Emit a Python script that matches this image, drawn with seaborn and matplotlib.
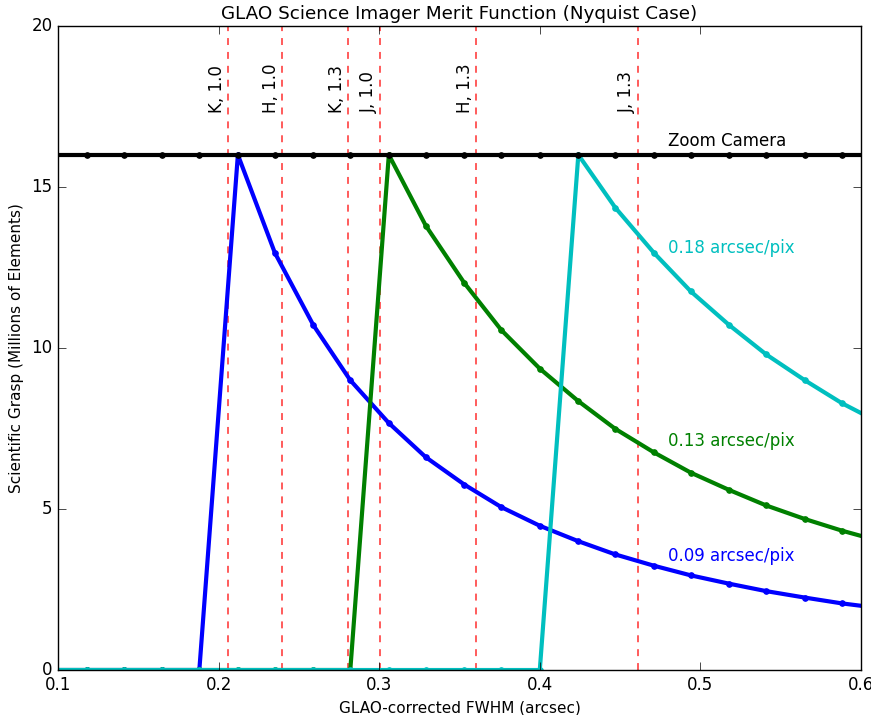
import matplotlib
matplotlib.use('Agg')
import matplotlib.pyplot as plt
import seaborn as sns
import pandas as pd

plt.style.use('classic')
plt.rcParams['figure.facecolor'] = 'white'
plt.rcParams['font.family'] = ['DejaVu Sans']

# FWHM sample points (arcsec)
fwhm = [0.094, 0.118, 0.141, 0.165, 0.188, 0.212, 0.235, 0.259, 0.282, 0.306, 0.329, 0.353,
        0.376, 0.400, 0.424, 0.447, 0.471, 0.494, 0.518, 0.541, 0.565, 0.588, 0.612]

grasp_009 = [0, 0, 0, 0, 0, 16, 12.96, 10.71, 9.0, 7.67, 6.61, 5.76,
             5.06, 4.48, 4.0, 3.59, 3.24, 2.94, 2.68, 2.45, 2.25, 2.07, 1.92]
grasp_013 = [0, 0, 0, 0, 0, 0, 0, 0, 0, 16, 13.80, 12.02,
             10.56, 9.36, 8.35, 7.49, 6.76, 6.13, 5.59, 5.11, 4.69, 4.33, 4.0]
grasp_018 = [0, 0, 0, 0, 0, 0, 0, 0, 0, 0, 0, 0,
             0, 0, 16, 14.36, 12.96, 11.76, 10.71, 9.80, 9.0, 8.29, 7.67]
grasp_zoom = [16] * len(fwhm)

band_pos = [0.2059, 0.2395, 0.2806, 0.3005, 0.3603, 0.461]
band_lbl = ['K, 1.0', 'H, 1.0', 'K, 1.3', 'J, 1.0', 'H, 1.3', 'J, 1.3']

df = pd.DataFrame({'fwhm': fwhm, 'b': grasp_009, 'g': grasp_013,
                   'c': grasp_018, 'k': grasp_zoom})

fig, ax = plt.subplots(figsize=(8.71, 7.15), dpi=100)
fig.subplots_adjust(left=0.0666, right=0.9885, top=0.9636, bottom=0.0629)

for xv in band_pos:
    ax.axvline(xv, color='#ff4040', ls='--', lw=1.2, dashes=(5, 5))

for col, c in [('b', 'blue'), ('g', 'green'), ('c', 'c'), ('k', 'black')]:
    sns.lineplot(data=df, x='fwhm', y=col, ax=ax, color=c, lw=3, sort=False,
                 marker='o', markersize=4, markeredgecolor=c, markerfacecolor=c)

for xv, lbl in zip(band_pos, band_lbl):
    ax.text(xv - 0.0012, 17.3, lbl, rotation=90, ha='right', va='bottom', fontsize=12)

ax.text(0.48, 16.15, 'Zoom Camera', color='black', fontsize=12, va='bottom')
ax.text(0.48, 13.1, '0.18 arcsec/pix', color='c', fontsize=12, va='center')
ax.text(0.48, 7.1, '0.13 arcsec/pix', color='green', fontsize=12, va='center')
ax.text(0.48, 3.55, '0.09 arcsec/pix', color='blue', fontsize=12, va='center')

ax.set_xlim(0.1, 0.6)
ax.set_ylim(0, 20)
ax.set_xticks([0.1, 0.2, 0.3, 0.4, 0.5, 0.6])
ax.set_yticks([0, 5, 10, 15, 20])
ax.tick_params(labelsize=12, length=6)
ax.set_title('GLAO Science Imager Merit Function (Nyquist Case)', fontsize=13.2)
ax.set_xlabel('GLAO-corrected FWHM (arcsec)', fontsize=11)
ax.set_ylabel('Scientific Grasp (Millions of Elements)', fontsize=11)

plt.savefig('out.png', dpi=100)
